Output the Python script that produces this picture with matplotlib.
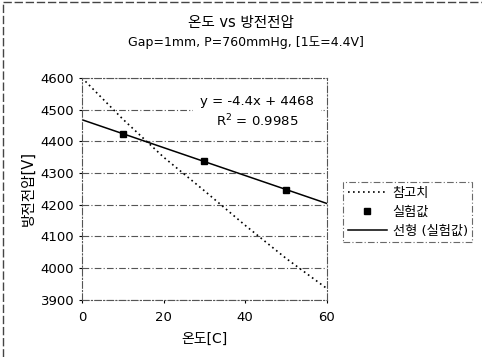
import matplotlib
matplotlib.use("Agg")
import matplotlib.pyplot as plt

plt.rcParams['font.family'] = ['DejaVu Sans', 'Noto Sans CJK KR']

# 데이터
temp_ref = [0, 10, 20, 30, 40, 50, 60]
volt_ref = [4600, 4470, 4350, 4244, 4135, 4031, 3936]
temp_exp = [10, 30, 50]
volt_exp = [4422, 4339, 4247]
slope, intercept = -4.4, 4468
fit_x = [0, 60]

fig = plt.figure(figsize=(4.82, 3.57), dpi=100)
ax = fig.add_axes([0.170, 0.160, 0.508, 0.622])

ax.plot(temp_ref, volt_ref, ls=(0, (1, 2)), color="black", lw=1.2, label="참고치")
ax.plot(temp_exp, volt_exp, "s", color="black", ms=4.5, label="실험값", ls="none")
fit_y = [slope * x + intercept for x in fit_x]
ax.plot(fit_x, fit_y, color="black", lw=1.1, label="선형 (실험값)")

ax.set_xlim(0, 60)
ax.set_ylim(3900, 4600)
ax.set_xticks([0, 20, 40, 60])
ax.set_yticks(range(3900, 4601, 100))
ax.yaxis.grid(True, ls=(0, (6, 2, 1, 2)), color="#555555", lw=0.8)
for s in ax.spines.values():
    s.set_linestyle((0, (6, 2, 1, 2)))
    s.set_linewidth(0.8)
    s.set_color("#555555")
ax.tick_params(labelsize=9.5, length=2)
ax.tick_params(axis="x", pad=6)
ax.set_xlabel("온도[C]", fontsize=10, labelpad=6)
ax.set_ylabel("방전전압[V]", fontsize=10.5)

fig.text(0.50, 0.925, "온도 vs 방전전압", ha="center", fontsize=10.5)
fig.text(0.51, 0.872, "Gap=1mm, P=760mmHg, [1도=4.4V]", ha="center", fontsize=9)

ax.text(43.0, 4492, "y = -4.4x + 4468\nR$^2$ = 0.9985", ha="center", va="center",
        fontsize=9.5, linespacing=1.3,
        bbox=dict(facecolor="white", edgecolor="none", pad=5))

leg = fig.legend(loc="upper left", bbox_to_anchor=(0.698, 0.508), fontsize=9.5,
                 frameon=True, fancybox=False, edgecolor="#444444",
                 handlelength=3, handletextpad=0.4, borderpad=0.35, labelspacing=0.45)
leg.get_frame().set_linestyle((0, (6, 2, 1, 2)))
leg.get_frame().set_linewidth(0.8)

fig.add_artist(plt.Line2D([0.006, 0.006], [0.0, 0.993], transform=fig.transFigure,
                          color="#444444", lw=1.0, ls=(0, (6, 2))))
fig.add_artist(plt.Line2D([0.006, 1.0], [0.993, 0.993], transform=fig.transFigure,
                          color="#444444", lw=1.0, ls=(0, (6, 2))))

fig.savefig("out.png", dpi=100)
